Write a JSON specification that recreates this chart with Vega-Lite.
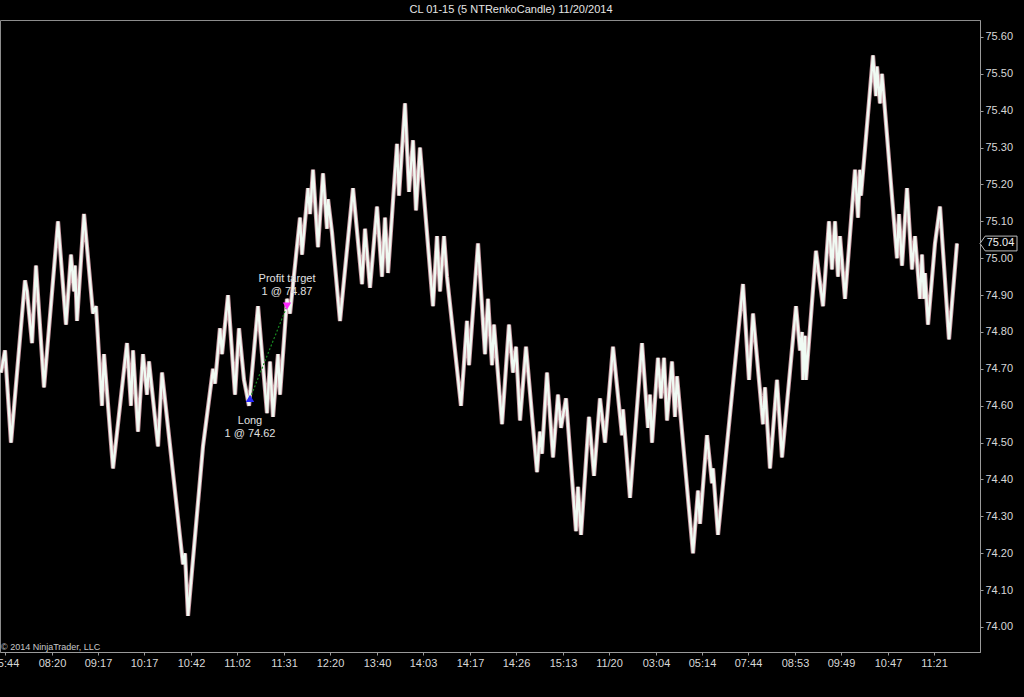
{
  "$schema": "https://vega.github.io/schema/vega-lite/v6.json",
  "autosize": {"type": "none"},
  "width": 980,
  "height": 632,
  "padding": {"top": 20, "left": 0, "right": 44, "bottom": 45},
  "background": "#000000",
  "config": {
    "font": "Liberation Sans",
    "view": {"stroke": "#8c8c8c", "fill": "#000000"},
    "axis": {"domainColor": "#9a9a9a", "tickColor": "#9a9a9a", "labelColor": "#d8d8d8", "labelFont": "Liberation Sans", "labelFontSize": 11, "grid": false, "title": null}
  },
  "title": {"text": "CL 01-15 (5 NTRenkoCandle)  11/20/2014", "anchor": "middle", "frame": "group", "dx": 21, "dy": 11, "offset": 7, "baseline": "alphabetic", "fontSize": 11, "font": "Liberation Sans", "fontWeight": "normal", "color": "#e6e6e6"},
  "datasets": {
    "swings": [
      {"bar":1,"price":74.69},{"bar":5,"price":74.75},{"bar":11,"price":74.50},{"bar":25,"price":74.94},{"bar":27,"price":74.91},{"bar":32,"price":74.77},{"bar":36,"price":74.98},{"bar":44,"price":74.65},{"bar":58,"price":75.10},{"bar":66,"price":74.82},{"bar":71,"price":75.01},{"bar":74,"price":74.91},{"bar":75,"price":74.98},{"bar":77,"price":74.83},{"bar":84,"price":75.12},{"bar":93,"price":74.85},{"bar":96,"price":74.87},{"bar":102,"price":74.60},{"bar":104,"price":74.74},{"bar":113,"price":74.43},{"bar":127,"price":74.77},{"bar":131,"price":74.60},{"bar":133,"price":74.75},{"bar":138,"price":74.53},{"bar":143,"price":74.74},{"bar":147,"price":74.63},{"bar":149,"price":74.72},{"bar":158,"price":74.49},{"bar":162,"price":74.69},{"bar":183,"price":74.17},{"bar":185,"price":74.20},{"bar":188,"price":74.03},{"bar":203,"price":74.49},{"bar":213,"price":74.70},{"bar":215,"price":74.66},{"bar":220,"price":74.81},{"bar":222,"price":74.74},{"bar":228,"price":74.90},{"bar":235,"price":74.63},{"bar":239,"price":74.81},{"bar":244,"price":74.67},{"bar":249,"price":74.60},{"bar":258,"price":74.87},{"bar":267,"price":74.58},{"bar":270,"price":74.72},{"bar":273,"price":74.57},{"bar":278,"price":74.74},{"bar":280,"price":74.63},{"bar":287,"price":74.89},{"bar":290,"price":74.85},{"bar":300,"price":75.11},{"bar":302,"price":75.01},{"bar":308,"price":75.19},{"bar":310,"price":75.12},{"bar":313,"price":75.24},{"bar":318,"price":75.03},{"bar":323,"price":75.23},{"bar":327,"price":75.08},{"bar":328,"price":75.16},{"bar":332,"price":75.07},{"bar":340,"price":74.83},{"bar":353,"price":75.19},{"bar":362,"price":74.93},{"bar":365,"price":75.08},{"bar":370,"price":74.92},{"bar":377,"price":75.14},{"bar":382,"price":74.95},{"bar":385,"price":75.11},{"bar":388,"price":74.96},{"bar":397,"price":75.31},{"bar":399,"price":75.17},{"bar":405,"price":75.42},{"bar":409,"price":75.18},{"bar":413,"price":75.32},{"bar":416,"price":75.13},{"bar":420,"price":75.30},{"bar":433,"price":74.87},{"bar":437,"price":75.06},{"bar":440,"price":74.91},{"bar":444,"price":75.06},{"bar":447,"price":74.95},{"bar":461,"price":74.60},{"bar":467,"price":74.83},{"bar":469,"price":74.71},{"bar":478,"price":75.04},{"bar":485,"price":74.74},{"bar":488,"price":74.89},{"bar":492,"price":74.71},{"bar":494,"price":74.82},{"bar":502,"price":74.55},{"bar":509,"price":74.82},{"bar":513,"price":74.69},{"bar":516,"price":74.76},{"bar":520,"price":74.56},{"bar":526,"price":74.76},{"bar":537,"price":74.42},{"bar":540,"price":74.53},{"bar":542,"price":74.47},{"bar":547,"price":74.69},{"bar":553,"price":74.46},{"bar":558,"price":74.63},{"bar":561,"price":74.54},{"bar":566,"price":74.62},{"bar":576,"price":74.26},{"bar":578,"price":74.38},{"bar":581,"price":74.25},{"bar":589,"price":74.57},{"bar":594,"price":74.41},{"bar":600,"price":74.62},{"bar":605,"price":74.50},{"bar":613,"price":74.76},{"bar":622,"price":74.52},{"bar":623,"price":74.59},{"bar":630,"price":74.35},{"bar":642,"price":74.77},{"bar":648,"price":74.54},{"bar":650,"price":74.63},{"bar":652,"price":74.50},{"bar":658,"price":74.73},{"bar":661,"price":74.62},{"bar":664,"price":74.73},{"bar":667,"price":74.56},{"bar":672,"price":74.72},{"bar":675,"price":74.57},{"bar":677,"price":74.68},{"bar":693,"price":74.20},{"bar":698,"price":74.37},{"bar":700,"price":74.28},{"bar":707,"price":74.52},{"bar":712,"price":74.39},{"bar":713,"price":74.43},{"bar":718,"price":74.25},{"bar":743,"price":74.93},{"bar":749,"price":74.67},{"bar":753,"price":74.85},{"bar":763,"price":74.55},{"bar":765,"price":74.65},{"bar":770,"price":74.43},{"bar":777,"price":74.67},{"bar":782,"price":74.46},{"bar":796,"price":74.87},{"bar":800,"price":74.75},{"bar":802,"price":74.80},{"bar":803,"price":74.67},{"bar":805,"price":74.79},{"bar":806,"price":74.67},{"bar":816,"price":75.02},{"bar":823,"price":74.87},{"bar":829,"price":75.10},{"bar":832,"price":74.97},{"bar":835,"price":75.10},{"bar":838,"price":74.95},{"bar":840,"price":75.06},{"bar":845,"price":74.89},{"bar":855,"price":75.24},{"bar":858,"price":75.11},{"bar":860,"price":75.24},{"bar":861,"price":75.17},{"bar":873,"price":75.55},{"bar":876,"price":75.44},{"bar":877,"price":75.52},{"bar":880,"price":75.42},{"bar":882,"price":75.50},{"bar":897,"price":75.00},{"bar":899,"price":75.12},{"bar":902,"price":74.98},{"bar":907,"price":75.19},{"bar":912,"price":74.97},{"bar":915,"price":75.06},{"bar":920,"price":74.89},{"bar":922,"price":75.01},{"bar":924,"price":74.89},{"bar":925,"price":74.96},{"bar":928,"price":74.82},{"bar":935,"price":75.04},{"bar":940,"price":75.14},{"bar":949,"price":74.78},{"bar":957,"price":75.04}
    ],
    "trade": [
      {"bar": 250, "price": 74.62, "kind": "entry", "label": "Long\n1 @ 74.62"},
      {"bar": 287, "price": 74.87, "kind": "exit", "label": "Profit target\n1 @ 74.87"}
    ],
    "last": [{"bar": 998.5, "price": 75.04, "label": "75.04"}],
    "notes": [{"bar": 1, "price": 73.9458, "note": "© 2014 NinjaTrader, LLC"}]
  },
  "encoding": {
    "x": {"field": "bar", "type": "quantitative", "scale": {"domain": [0, 980], "nice": false, "zero": false},
      "axis": {"orient": "bottom", "values": [5, 52, 98, 144, 191, 237, 284, 330, 377, 423, 470, 516, 563, 609, 656, 702, 748, 795, 841, 888, 934],
        "labelExpr": "['05:44','08:20','09:17','10:17','10:42','11:02','11:31','12:20','13:40','14:03','14:17','14:26','15:13','11/20','03:04','05:14','07:44','08:53','09:49','10:47','11:21'][indexof([5,52,98,144,191,237,284,330,377,423,470,516,563,609,656,702,748,795,841,888,934], datum.value)]",
        "tickSize": 3, "labelPadding": 2, "labelOverlap": false, "labelFlush": false, "labelBound": false}},
    "y": {"field": "price", "type": "quantitative", "scale": {"domain": [73.9322, 75.6461], "nice": false, "zero": false},
      "axis": {"orient": "right", "values": [74.0, 74.1, 74.2, 74.3, 74.4, 74.5, 74.6, 74.7, 74.8, 74.9, 75.0, 75.1, 75.2, 75.3, 75.4, 75.5, 75.6], "format": ".2f", "tickSize": 3, "labelPadding": 2, "labelOverlap": false, "labelFlush": false}}
  },
  "layer": [
    {"data": {"name": "swings"}, "mark": {"type": "line", "color": "#c99aa3", "strokeWidth": 4.2, "strokeJoin": "bevel"}},
    {"data": {"name": "swings"}, "mark": {"type": "line", "color": "#f0faf3", "strokeWidth": 2.4, "strokeJoin": "bevel"}},
    {"data": {"name": "trade"}, "mark": {"type": "line", "color": "#188a22", "strokeWidth": 1.2, "strokeDash": [2, 2]}},
    {"data": {"name": "trade"}, "transform": [{"filter": "datum.kind == 'entry'"}], "mark": {"type": "point", "shape": "triangle-up", "filled": true, "color": "#2828ff", "size": 70, "opacity": 1}},
    {"data": {"name": "trade"}, "transform": [{"filter": "datum.kind == 'exit'"}], "mark": {"type": "point", "shape": "triangle-down", "filled": true, "color": "#ff28ff", "size": 70, "opacity": 1, "dy": -8}},
    {"data": {"name": "trade"}, "transform": [{"filter": "datum.kind == 'entry'"}], "mark": {"type": "text", "baseline": "top", "align": "center", "dy": 17, "fontSize": 11, "lineHeight": 13, "lineBreak": "\n", "color": "#e0e0e0"}, "encoding": {"text": {"field": "label"}}},
    {"data": {"name": "trade"}, "transform": [{"filter": "datum.kind == 'exit'"}], "mark": {"type": "text", "baseline": "bottom", "align": "center", "dy": -22, "fontSize": 11, "lineHeight": 13, "lineBreak": "\n", "color": "#e0e0e0"}, "encoding": {"text": {"field": "label"}}},
    {"data": {"name": "last"}, "mark": {"type": "point", "shape": "M -1 0 L -0.72 -0.4 L 1 -0.4 L 1 0.4 L -0.72 0.4 Z", "size": 1369, "filled": true, "fill": "#000000", "stroke": "#bdbdbd", "strokeWidth": 1, "opacity": 1}},
    {"data": {"name": "last"}, "mark": {"type": "text", "align": "center", "baseline": "middle", "dx": 2, "fontSize": 11, "color": "#f0f0f0"}, "encoding": {"text": {"field": "label"}}},
    {"data": {"name": "notes"}, "mark": {"type": "text", "align": "left", "baseline": "middle", "fontSize": 9, "color": "#c8c8c8"}, "encoding": {"text": {"field": "note"}}}
  ]
}
